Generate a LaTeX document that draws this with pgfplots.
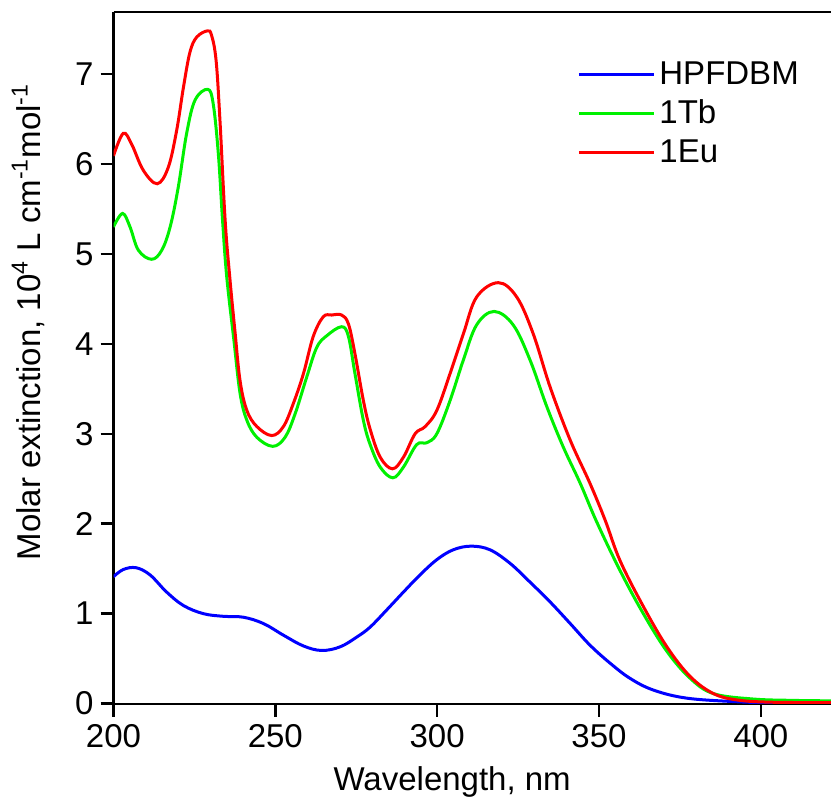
\documentclass[border=0pt]{standalone}
\usepackage{pgfplots}
\pgfplotsset{compat=1.18}
\usepackage{fontspec}
\setmainfont{Liberation Sans}
\definecolor{cblue}{RGB}{0,0,255}
\definecolor{cgreen}{RGB}{0,240,0}
\definecolor{cred}{RGB}{255,0,0}
\begin{document}
\begin{tikzpicture}
\begin{axis}[
  scale only axis,
  width=358.75pt, height=346pt,
  xmin=200, xmax=421.7, ymin=-0.005, ymax=7.69,
  axis x line=box, axis y line=left,
  axis line style={-, line width=1.3pt},
  xtick={200,250,300,350,400}, ytick={0,1,2,3,4,5,6,7},
  xtick pos=lower, ytick pos=left,
  tick align=outside, major tick length=6.5pt,
  tick style={line width=1.2pt, black},
  /pgf/number format/assume math mode=true,
  ticklabel style={font=\fontsize{16.5}{19}\selectfont},
  label style={font=\fontsize{16.5}{19}\selectfont},
  xlabel={Wavelength, nm},
  ylabel={Molar extinction, 10\textsuperscript{4} L cm\textsuperscript{-1}mol\textsuperscript{-1}},
  xlabel style={at={(axis description cs:0.472,-0.113)}, anchor=center},
  ylabel style={at={(axis description cs:-0.119,0.552)}, anchor=center},
  legend style={at={(axis description cs:0.646,0.935)}, anchor=north west, draw=none, fill=none,
    font=\fontsize{16.5}{19}\selectfont, row sep=2.5pt, inner sep=0pt, legend cell align=left},
  legend image code/.code={\draw[#1] (0pt,0pt) -- (37.5pt,0pt);},
  every axis plot/.append style={line width=1.5pt, smooth, tension=0.6},
]
\addplot[cblue] coordinates {
(200,1.41) (203,1.49) (207,1.51) (211.3,1.43) (216.4,1.24) (221.6,1.09) (227.7,1.00)
(233.9,0.97) (240.1,0.96) (246.3,0.89) (252.5,0.76) (258.7,0.64) (264.3,0.59) (270,0.63)
(275.2,0.74) (279.3,0.85) (284.4,1.04) (289.6,1.24) (294.7,1.43) (299.9,1.60) (305,1.71)
(310.5,1.75) (316.3,1.71) (322.5,1.56) (328.7,1.35) (334.9,1.13) (341.1,0.89) (347.2,0.65)
(353.4,0.45) (359.6,0.28) (366.8,0.15) (377.1,0.06) (392.6,0.02) (405,0.008) (421.7,0.005)
};
\addlegendentry{HPFDBM}
\addplot[cgreen] coordinates {
(200,5.30) (202.8,5.45) (205.1,5.30) (207.7,5.04) (211.8,4.94) (214.9,5.04) (217.5,5.30)
(220.0,5.74) (222.6,6.34) (225.2,6.71) (229.1,6.83) (230.8,6.67) (232.4,6.11) (233.7,5.37)
(235.0,4.74) (237.2,4.04) (239.1,3.45) (241.2,3.15) (244.3,2.96) (249.2,2.86) (253.0,2.96)
(256.1,3.22) (259.7,3.63) (262.8,3.96) (265.9,4.09) (270.5,4.19) (272.6,4.08) (274.6,3.67)
(277.2,3.15) (279.3,2.88) (282.4,2.63) (286.3,2.51) (289.6,2.63) (293.7,2.88) (296.8,2.90)
(299.9,3.00) (304.0,3.37) (308.1,3.82) (312.2,4.21) (317.6,4.36) (323.5,4.21) (328.7,3.82)
(333.9,3.30) (339.0,2.85) (344.2,2.45) (349.3,2.02) (356.5,1.48) (363.7,1.00) (371.0,0.58)
(378.2,0.28) (385.4,0.11) (397.7,0.05) (410,0.035) (421.7,0.03)
};
\addlegendentry{1Tb}
\addplot[cred] coordinates {
(200,6.09) (203.0,6.34) (205.6,6.22) (209.2,5.93) (213.5,5.78) (216.9,5.96) (219.5,6.37)
(221.6,6.85) (223.6,7.24) (225.7,7.41) (229.0,7.48) (230.3,7.43) (231.7,7.15) (232.9,6.48)
(234.5,5.37) (236.0,4.71) (237.5,4.15) (239.1,3.59) (241.2,3.26) (244.3,3.08) (248.9,2.98)
(252.5,3.08) (255.6,3.34) (258.7,3.67) (261.7,4.08) (264.8,4.30) (267.4,4.32) (270.5,4.32)
(272.6,4.22) (274.6,3.89) (277.2,3.37) (279.3,3.05) (282.4,2.74) (286.2,2.61) (289.6,2.74)
(293.2,3.00) (296.3,3.08) (299.9,3.26) (304.0,3.67) (308.1,4.11) (312.2,4.52) (318.9,4.68)
(324.6,4.52) (329.7,4.11) (334.9,3.52) (341.1,2.93) (347.2,2.45) (351.9,2.04) (356.5,1.59)
(363.7,1.08) (371.0,0.63) (378.2,0.30) (385.4,0.11) (392.6,0.04) (402.9,0.015) (421.7,0.01)
};
\addlegendentry{1Eu}
\coordinate (bl) at (rel axis cs:-0.1582,-0.1387);
\coordinate (tr) at (rel axis cs:1,1.0173);
\end{axis}
\pgfresetboundingbox
\path[use as bounding box] (bl) rectangle (tr);
\end{tikzpicture}
\end{document}
